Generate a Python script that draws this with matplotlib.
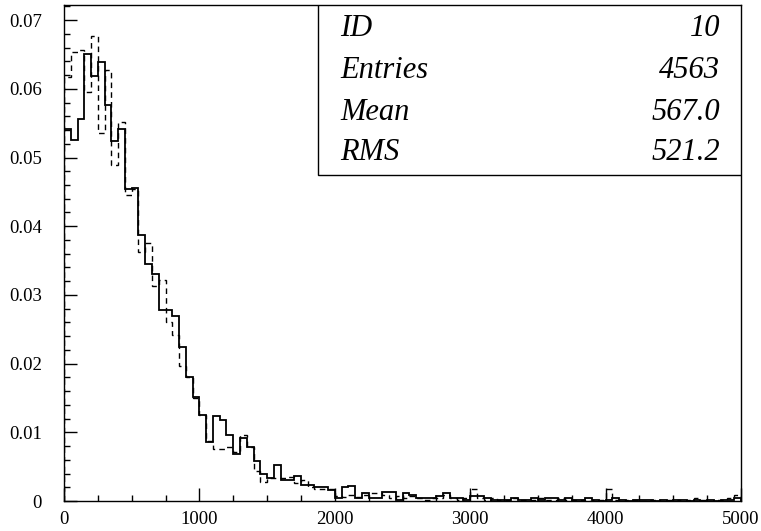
import numpy as np
import matplotlib

matplotlib.use('Agg')
import matplotlib.pyplot as plt
from matplotlib.patches import Rectangle
from matplotlib.ticker import MultipleLocator

# 100 bins of width 50 between 0 and 5000, normalised contents
bin_edges = np.linspace(0, 5000, 101)

solid_values = [
    0.0542, 0.0525, 0.0556, 0.0650, 0.0619, 0.0639, 0.0577, 0.0524, 0.0542, 0.0454,
    0.0455, 0.0387, 0.0345, 0.0331, 0.0278, 0.0278, 0.0270, 0.0224, 0.0180, 0.0152,
    0.0125, 0.0086, 0.0124, 0.0118, 0.0096, 0.0069, 0.0091, 0.0078, 0.0058, 0.0040,
    0.0033, 0.0053, 0.0030, 0.0031, 0.0036, 0.0024, 0.0023, 0.0021, 0.0021, 0.0016,
    0.0004, 0.0021, 0.0022, 0.0004, 0.0011, 0.0004, 0.0004, 0.0013, 0.0013, 0.0002,
    0.0011, 0.0009, 0.0004, 0.0004, 0.0004, 0.0007, 0.0011, 0.0004, 0.0004, 0.0002,
    0.0007, 0.0007, 0.0004, 0.0002, 0.0002, 0.0002, 0.0004, 0.0002, 0.0002, 0.0004,
    0.0002, 0.0004, 0.0004, 0.0002, 0.0004, 0.0002, 0.0002, 0.0004, 0.0002, 0.0000,
    0.0002, 0.0004, 0.0002, 0.0000, 0.0002, 0.0002, 0.0002, 0.0000, 0.0002, 0.0000,
    0.0002, 0.0002, 0.0000, 0.0002, 0.0000, 0.0002, 0.0000, 0.0002, 0.0002, 0.0004,
]

dashed_values = [
    0.0617, 0.0654, 0.0657, 0.0596, 0.0677, 0.0535, 0.0627, 0.0489, 0.0551, 0.0445,
    0.0454, 0.0363, 0.0375, 0.0313, 0.0322, 0.0261, 0.0242, 0.0196, 0.0180, 0.0150,
    0.0125, 0.0088, 0.0076, 0.0076, 0.0078, 0.0072, 0.0096, 0.0078, 0.0043, 0.0027,
    0.0033, 0.0034, 0.0033, 0.0035, 0.0026, 0.0030, 0.0020, 0.0018, 0.0017, 0.0018,
    0.0007, 0.0006, 0.0009, 0.0006, 0.0009, 0.0011, 0.0011, 0.0009, 0.0004, 0.0007,
    0.0004, 0.0007, 0.0004, 0.0002, 0.0004, 0.0004, 0.0009, 0.0004, 0.0002, 0.0004,
    0.0017, 0.0004, 0.0002, 0.0004, 0.0002, 0.0002, 0.0004, 0.0002, 0.0002, 0.0002,
    0.0004, 0.0002, 0.0002, 0.0004, 0.0002, 0.0002, 0.0002, 0.0000, 0.0002, 0.0002,
    0.0017, 0.0002, 0.0000, 0.0002, 0.0002, 0.0000, 0.0002, 0.0002, 0.0000, 0.0002,
    0.0002, 0.0000, 0.0002, 0.0004, 0.0002, 0.0000, 0.0002, 0.0002, 0.0004, 0.0009,
]

stats_labels = ['ID', 'Entries', 'Mean', 'RMS']
stats_values = ['10', '4563', '567.0', '521.2']

serif = ['Liberation Serif', 'DejaVu Serif']

fig = plt.figure(figsize=(7.61, 5.31), dpi=100, facecolor='w')
ax = fig.add_axes([64 / 761, 30 / 531, 677 / 761, 496 / 531])

ax.stairs(dashed_values, bin_edges, color='black', lw=1.0, linestyle=(0, (4, 3)))
ax.stairs(solid_values, bin_edges, color='black', lw=1.3)

ax.set_xlim(0, 5000)
ax.set_ylim(0, 0.0722)

ax.xaxis.set_major_locator(MultipleLocator(1000))
ax.xaxis.set_minor_locator(MultipleLocator(250))
ax.yaxis.set_major_locator(MultipleLocator(0.01))
ax.yaxis.set_minor_locator(MultipleLocator(0.002))
ax.set_yticks(np.arange(0, 0.071, 0.01))
ax.set_yticklabels(['0', '0.01', '0.02', '0.03', '0.04', '0.05', '0.06', '0.07'])

ax.tick_params(which='both', direction='in', top=False, right=False, width=1.0)
ax.tick_params(which='major', length=9.5)
ax.tick_params(which='minor', length=4.5)
ax.tick_params(axis='y', which='major', pad=16)
ax.tick_params(axis='x', which='major', pad=7)
for lab in ax.get_xticklabels() + ax.get_yticklabels():
    lab.set_family(serif)
    lab.set_fontsize(13.5)

for sp in ax.spines.values():
    sp.set_linewidth(1.0)

# statistics box in the upper right corner
box = Rectangle((0.375, 0.657), 0.625, 0.343, transform=ax.transAxes,
                facecolor='white', edgecolor='black', lw=1.0, zorder=5)
ax.add_patch(box)
row_y = [0.953, 0.868, 0.784, 0.702]
for lab, val, yy in zip(stats_labels, stats_values, row_y):
    ax.text(0.408, yy, lab, transform=ax.transAxes, family=serif, style='italic',
            fontsize=22, va='center', ha='left', zorder=6)
    ax.text(0.969, yy, val, transform=ax.transAxes, family=serif, style='italic',
            fontsize=22, va='center', ha='right', zorder=6)

fig.savefig('out.png', dpi=100)
plt.close(fig)
